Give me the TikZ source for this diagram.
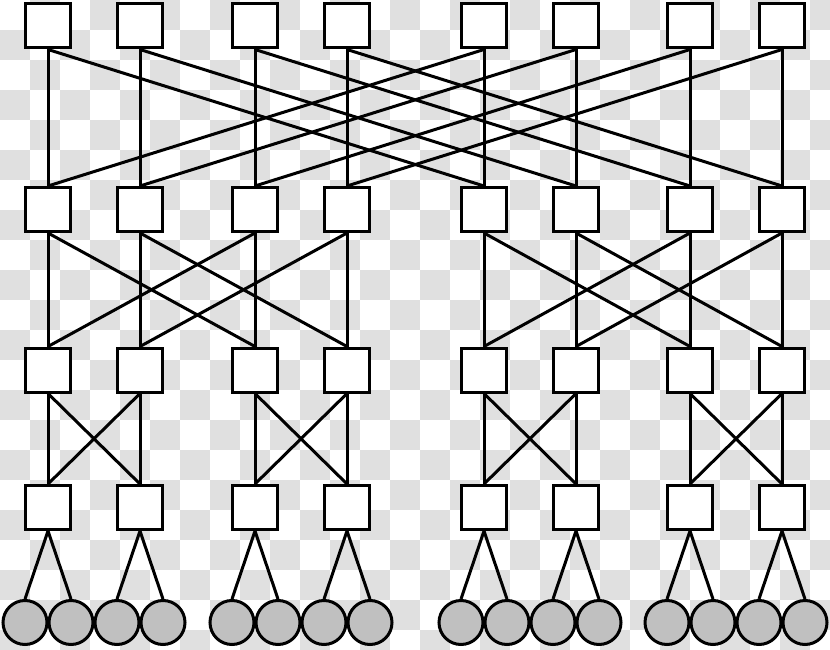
\documentclass[tikz,border=0pt]{standalone}
\definecolor{chk}{RGB}{224,224,224}
\definecolor{hostgray}{RGB}{192,192,192}
\begin{document}
\begin{tikzpicture}[x=1pt,y=-1pt,
  sw/.style={draw=black,fill=white,line width=3pt,minimum width=45pt,minimum height=44pt,inner sep=0pt},
  hst/.style={circle,draw=black,fill=hostgray,line width=3pt,minimum size=44pt,inner sep=0pt},
  link/.style={draw=black,line width=3pt}]
\useasboundingbox (0,0) rectangle (830,650);
\begin{scope}
\clip (0,0) rectangle (830,650);
\fill[white] (0,0) rectangle (830,650);
\foreach \c in {0,...,27} {
  \foreach \r in {0,...,21} {
    \pgfmathtruncatemacro{\cpar}{mod(\c+\r,2)}
    \ifnum\cpar=1 \fill[chk] (\c*30,\r*30) rectangle ++(30,30); \fi
  }
}
\end{scope}
% switches
\foreach \i/\x in {0/48,1/140,2/255,3/347,4/484,5/576,6/690,7/782} {
  \node[sw] (t\i) at (\x,26) {};
  \node[sw] (a\i) at (\x,209.5) {};
  \node[sw] (e\i) at (\x,370) {};
  \node[sw] (b\i) at (\x,507.5) {};
}
% hosts
\foreach \k/\x in {0/25,1/71,2/117,3/163,4/232,5/278,6/324,7/370,8/461,9/507,10/553,11/599,12/667,13/713,14/759,15/805} {
  \node[hst] (h\k) at (\x,622.5) {};
}
% vertical links
\foreach \i in {0,...,7} {
  \draw[link] (t\i.south) -- (a\i.north);
  \draw[link] (a\i.south) -- (e\i.north);
  \draw[link] (e\i.south) -- (b\i.north);
}
% core cross links
\foreach \i/\j in {0/4,1/5,2/6,3/7} {
  \draw[link] (t\i.south) -- (a\j.north);
  \draw[link] (a\i.north) -- (t\j.south);
}
% aggregation to edge
\foreach \i/\j in {0/2,1/3,2/0,3/1,4/6,5/7,6/4,7/5} {
  \draw[link] (a\i.south) -- (e\j.north);
}
% edge to access
\foreach \i/\j in {0/1,1/0,2/3,3/2,4/5,5/4,6/7,7/6} {
  \draw[link] (e\i.south) -- (b\j.north);
}
% access to hosts
\foreach \i in {0,...,7} {
  \pgfmathtruncatemacro{\ha}{2*\i}
  \pgfmathtruncatemacro{\hb}{2*\i+1}
  \draw[link] (b\i.south) -- (h\ha.north);
  \draw[link] (b\i.south) -- (h\hb.north);
}
\end{tikzpicture}
\end{document}
